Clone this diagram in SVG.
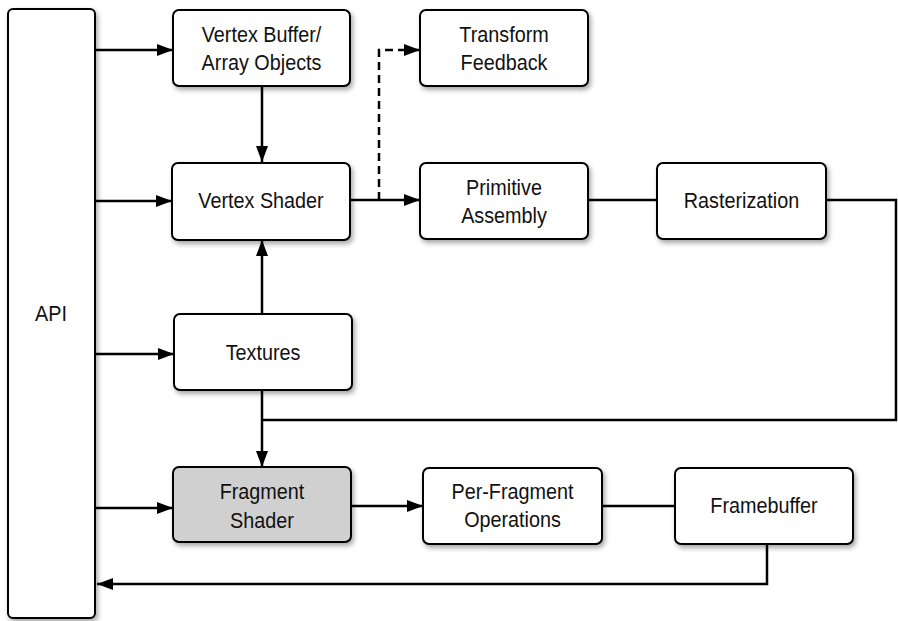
<svg xmlns="http://www.w3.org/2000/svg" width="898" height="621" viewBox="0 0 898 621">
<style>
.box{fill:#fff;stroke:#000;stroke-width:2;filter:url(#sh)}
.gray{fill:#d0d0d0}
.t{font-family:"Liberation Sans",Arial,sans-serif;font-size:22px;fill:#111;text-anchor:middle}
.c{fill:none;stroke:#000;stroke-width:2.5}
.a{marker-end:url(#ah)}
.d{stroke-dasharray:8,5}
</style>
<defs>
<filter id="sh" x="-10%" y="-10%" width="130%" height="140%">
<feDropShadow dx="2" dy="3" stdDeviation="2.5" flood-color="#000" flood-opacity="0.35"/>
</filter>
<marker id="ah" viewBox="0 0 16 12" refX="16" refY="6" markerWidth="16" markerHeight="12" markerUnits="userSpaceOnUse" orient="auto">
<path d="M0,0 L16,6 L0,12 Z" fill="#000"/>
</marker>
</defs>
<g id="connectors">
<path class="c a" d="M95,50 H173"/>
<path class="c a" d="M95,201 H172"/>
<path class="c a" d="M95,354 H174"/>
<path class="c a" d="M95,508 H173"/>
<path class="c a" d="M262,86 V162"/>
<path class="c a" d="M262,314 V240"/>
<path class="c a" d="M262,390 V467"/>
<path class="c a" d="M350,200 H420"/>
<path class="c d a" d="M379,200 V50 H420"/>
<path class="c" d="M588,200 H657"/>
<path class="c" d="M826,200 H896 V420 H262"/>
<path class="c a" d="M351,506 H423"/>
<path class="c" d="M602,506 H675"/>
<path class="c a" d="M767,544 V584 H97"/>
</g>
<g id="api"><rect class="box" x="8" y="9" width="87" height="609" rx="5"/><text class="t" transform="translate(51,321) scale(0.9,1)">API</text></g>
<g id="vbo"><rect class="box" x="173" y="10" width="177" height="76" rx="6"/><text class="t" transform="translate(261.5,42) scale(0.9,1)">Vertex Buffer/</text><text class="t" transform="translate(261.5,70) scale(0.9,1)">Array Objects</text></g>
<g id="tf"><rect class="box" x="420" y="10" width="168" height="76" rx="6"/><text class="t" transform="translate(504,42) scale(0.9,1)">Transform</text><text class="t" transform="translate(504,70) scale(0.9,1)">Feedback</text></g>
<g id="vs"><rect class="box" x="172" y="163" width="178" height="77" rx="6"/><text class="t" transform="translate(261,208) scale(0.9,1)">Vertex Shader</text></g>
<g id="pa"><rect class="box" x="420" y="163" width="168" height="76" rx="6"/><text class="t" transform="translate(504,195) scale(0.9,1)">Primitive</text><text class="t" transform="translate(504,223) scale(0.9,1)">Assembly</text></g>
<g id="ras"><rect class="box" x="657" y="163" width="169" height="76" rx="6"/><text class="t" transform="translate(741.5,208) scale(0.9,1)">Rasterization</text></g>
<g id="tex"><rect class="box" x="174" y="314" width="178" height="76" rx="6"/><text class="t" transform="translate(263,360) scale(0.9,1)">Textures</text></g>
<g id="fs"><rect class="box gray" x="173" y="467" width="178" height="75" rx="6"/><text class="t" transform="translate(262,499) scale(0.9,1)">Fragment</text><text class="t" transform="translate(262,528) scale(0.9,1)">Shader</text></g>
<g id="pf"><rect class="box" x="423" y="468" width="179" height="76" rx="6"/><text class="t" transform="translate(512.5,499) scale(0.9,1)">Per-Fragment</text><text class="t" transform="translate(512.5,527) scale(0.9,1)">Operations</text></g>
<g id="fb"><rect class="box" x="675" y="468" width="178" height="76" rx="6"/><text class="t" transform="translate(764,513) scale(0.9,1)">Framebuffer</text></g>
</svg>
